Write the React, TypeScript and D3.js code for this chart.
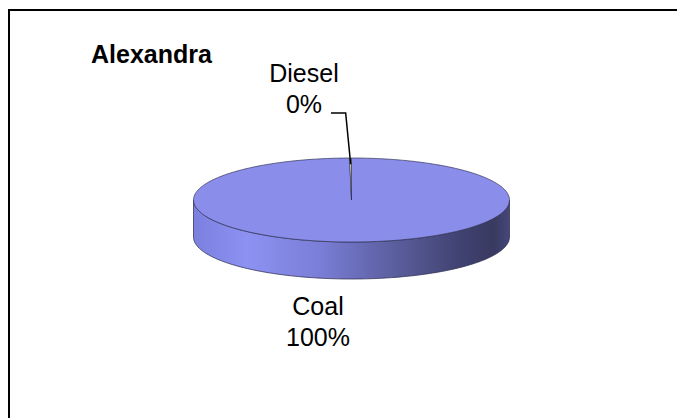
// App.tsx — 3D-looking pie (Excel style) for Alexandra fuel mix, drawn with d3.
import { useEffect, useRef } from "react";
import * as d3 from "d3";

const title = "Alexandra";
const categories = ["Coal", "Diesel"];
const shares = [99.8, 0.2];
const sliceColors = ["#8a8eea", "#f4f1c4"];

export default function App() {
  const ref = useRef<SVGSVGElement | null>(null);

  useEffect(() => {
    document.body.style.margin = "0";
    document.body.style.overflow = "hidden";
    const svg = d3.select(ref.current);
    svg.selectAll("*").remove();

    const cx = 351.5;
    const cy = 200;
    const rx = 158;
    const ry = 42;
    const depth = 37;
    const font = "'Liberation Sans', Arial, sans-serif";

    const defs = svg.append("defs");
    const grad = defs.append("linearGradient").attr("id", "wall").attr("x1", 0).attr("x2", 1).attr("y1", 0).attr("y2", 0);
    [
      [0, "#7b80df"], [0.17, "#8d91f2"], [0.4, "#7a7ed6"], [0.55, "#6669b2"],
      [0.7, "#53568f"], [0.85, "#3f4170"], [0.95, "#393a60"], [1, "#45477a"],
    ].forEach(([o, c]) => grad.append("stop").attr("offset", o as number).attr("stop-color", c as string));

    // frame: only top and left edges are inside the picture
    svg.append("path").attr("d", "M9,420V10H690")
      .attr("fill", "none").attr("stroke", "#000").attr("stroke-width", 2);

    svg.append("text").attr("x", 91).attr("y", 63).attr("font-family", font)
      .attr("font-size", 25).attr("font-weight", "bold").text(title);

    const data = categories.map((c, i) => ({ label: c, value: shares[i], color: sliceColors[i] }));
    const total = d3.sum(data, (d) => d.value);
    const pct = d3.format(".0%");
    const arcs = d3.pie<any>().value((d) => d.value).sort(null)(data);

    const proj = (a: number, r = 1, dy = 0): [number, number] =>
      [cx + rx * r * Math.sin(a), cy - ry * r * Math.cos(a) + dy];
    const steps = (a0: number, a1: number) => {
      const n = Math.max(2, Math.ceil(Math.abs(a1 - a0) / 0.02));
      return d3.range(n + 1).map((i) => a0 + ((a1 - a0) * i) / n);
    };
    const line = d3.line();

    // side wall (front half only)
    arcs.forEach((s) => {
      const a0 = Math.max(s.startAngle, Math.PI / 2);
      const a1 = Math.min(s.endAngle, (3 * Math.PI) / 2);
      if (a0 >= a1) return;
      const top = steps(a0, a1).map((a) => proj(a));
      const bottom = steps(a1, a0).map((a) => proj(a, 1, depth));
      svg.append("path").attr("d", line([...top, ...bottom]) + "Z")
        .attr("fill", "url(#wall)").attr("stroke", "#2e2f52").attr("stroke-width", 0.9).attr("stroke-opacity", 0.85);
    });

    // top face
    arcs.forEach((s) => {
      const pts = [[cx, cy] as [number, number], ...steps(s.startAngle, s.endAngle).map((a) => proj(a))];
      svg.append("path").attr("d", line(pts) + "Z")
        .attr("fill", s.data.color).attr("stroke", "#2e2f52").attr("stroke-width", 0.8).attr("stroke-opacity", 0.85);
    });

    // labels
    const diesel = arcs[1];
    const mid = (diesel.startAngle + diesel.endAngle) / 2;
    const [ax, ay] = proj(mid, 0.85);
    svg.append("path").attr("d", line([[ax, ay], [ax - 5, 113], [331, 113]]))
      .attr("fill", "none").attr("stroke", "#000").attr("stroke-width", 1.5);

    const labelPos = [
      { x: 318, y: 315 },
      { x: 304, y: 82 },
    ];
    arcs.forEach((s, i) => {
      const t = svg.append("text").attr("font-family", font).attr("font-size", 25).attr("text-anchor", "middle");
      t.append("tspan").attr("x", labelPos[i].x).attr("y", labelPos[i].y).text(s.data.label);
      t.append("tspan").attr("x", labelPos[i].x).attr("y", labelPos[i].y + 31).text(pct(s.data.value / total));
    });
  }, []);

  return (
    <svg ref={ref} width={677} height={418}
      style={{ display: "block", background: "#fff" }} />
  );
}
